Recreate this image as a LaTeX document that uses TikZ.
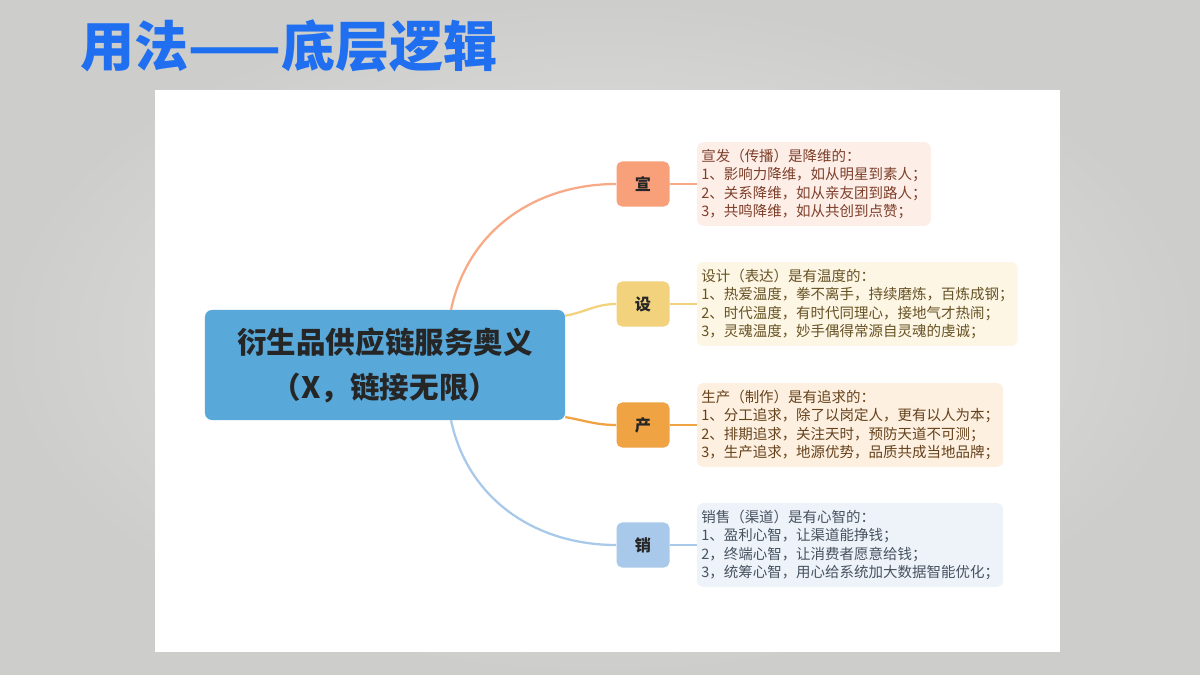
\documentclass[tikz,border=0pt]{standalone}
\usepackage{fontspec}
\setmainfont{Noto Sans CJK SC}
\usetikzlibrary{positioning}
\definecolor{bgout}{HTML}{CDCECC}
\definecolor{bgin}{HTML}{E8E8E6}
\definecolor{titleblue}{HTML}{1F6FF0}
\definecolor{coreblue}{HTML}{58A9DA}
\definecolor{xuanfill}{HTML}{F7A07A}
\definecolor{xuanbg}{HTML}{FDEEE8}
\definecolor{xuantext}{HTML}{7E3F2A}
\definecolor{shefill}{HTML}{F3D27E}
\definecolor{shebg}{HTML}{FDF6E4}
\definecolor{shetext}{HTML}{665224}
\definecolor{chanfill}{HTML}{EFA343}
\definecolor{chanbg}{HTML}{FDF0E0}
\definecolor{chantext}{HTML}{66421C}
\definecolor{xiaofill}{HTML}{A8C9E9}
\definecolor{xiaobg}{HTML}{EEF3FA}
\definecolor{xiaotext}{HTML}{47525F}

\begin{document}
\begin{tikzpicture}[x=0.025cm,y=-0.025cm,
  branch/.style = {rounded corners=4pt, minimum width=1.325cm, minimum height=1.125cm, inner sep=0pt, font=\fontsize{11.5}{13}\selectfont\bfseries, text=black!85},
  note/.style = {rounded corners=4pt, align=left, anchor=west, inner xsep=3pt, inner ysep=5pt, font=\fontsize{10.3}{13}\selectfont},
  link/.style = {line width=1.6pt}]
\shade[inner color=bgin, outer color=bgout] (0,0) rectangle (1200,675);
\useasboundingbox (0,0) rectangle (1200,675);
\fill[white] (155,90) rectangle (1060,652);
\node[anchor=west, inner sep=0pt, text=titleblue, font=\fontsize{38.5}{42}\selectfont\bfseries] (title) at (80,46) {用法——底层逻辑};
\node[fill=coreblue, rounded corners=5pt, minimum width=9cm, minimum height=2.75cm, align=center, text=black!85, font=\fontsize{21}{32}\selectfont\bfseries] (core) at (385,365) {衍生品供应链服务奥义\\（X，链接无限）};
\node[branch, fill=xuanfill] (xuan) at (643,184) {宣};
\node[branch, fill=shefill] (she) at (643,304) {设};
\node[branch, fill=chanfill] (chan) at (643,425) {产};
\node[branch, fill=xiaofill] (xiao) at (643,545) {销};
\node[note, fill=xuanbg, text=xuantext] (xuanbox) [right=0.675cm of xuan.east] {宣发（传播）是降维的：\\1、影响力降维，如从明星到素人；\\2、关系降维，如从亲友团到路人；\\3，共鸣降维，如从共创到点赞；};
\node[note, fill=shebg, text=shetext] (shebox) [right=0.675cm of she.east] {设计（表达）是有温度的：\\1、热爱温度，拳不离手，持续磨炼，百炼成钢；\\2、时代温度，有时代同理心，接地气才热闹；\\3，灵魂温度，妙手偶得常源自灵魂的虔诚；};
\node[note, fill=chanbg, text=chantext] (chanbox) [right=0.675cm of chan.east] {生产（制作）是有追求的：\\1、分工追求，除了以岗定人，更有以人为本；\\2、排期追求，关注天时，预防天道不可测；\\3，生产追求，地源优势，品质共成当地品牌；};
\node[note, fill=xiaobg, text=xiaotext] (xiaobox) [right=0.675cm of xiao.east] {销售（渠道）是有心智的：\\1、盈利心智，让渠道能挣钱；\\2，终端心智，让消费者愿意给钱；\\3，统筹心智，用心给系统加大数据智能优化；};
\draw[link, xuanfill!90] ([xshift=1.65cm]core.north) to[out=78, in=180] (xuan.west);
\draw[link, shefill] ([yshift=-0.15cm]core.north east) to[out=10, in=180] (she.west);
\draw[link, chanfill] ([yshift=0.08cm]core.south east) to[out=-10, in=180] (chan.west);
\draw[link, xiaofill] ([xshift=1.65cm]core.south) to[out=-78, in=180] (xiao.west);
\draw[link, xuanfill!90] (xuan) -- (xuanbox);
\draw[link, shefill] (she) -- (shebox);
\draw[link, chanfill] (chan) -- (chanbox);
\draw[link, xiaofill] (xiao) -- (xiaobox);
\end{tikzpicture}
\end{document}
